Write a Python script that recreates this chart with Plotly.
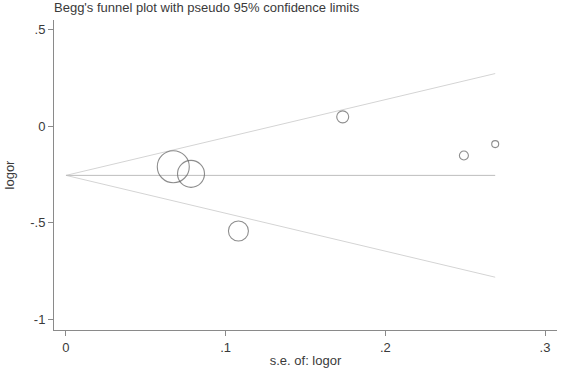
import plotly.graph_objects as go

# data
se = [0.0672, 0.0783, 0.108, 0.1733, 0.2492, 0.2688]
logor = [-0.21, -0.247, -0.543, 0.048, -0.152, -0.093]
msize = [32, 27, 20, 12, 9, 7]
pooled = -0.255
z = 1.96

xtick_vals = [0, 0.1, 0.2, 0.3]
xtick_text = ["0", ".1", ".2", ".3"]
ytick_vals = [0.5, 0, -0.5, -1]
ytick_text = [".5", "0", "-.5", "-1"]

se_max = max(se)
font = "Liberation Sans, Arial, sans-serif"
txt = "#3a3a3a"

fig = go.Figure()
# funnel limits
fig.add_trace(go.Scatter(x=[0, se_max], y=[pooled, pooled + z * se_max], mode="lines",
                         line=dict(color="#d4d4d4", width=1), hoverinfo="skip", showlegend=False))
fig.add_trace(go.Scatter(x=[0, se_max], y=[pooled, pooled - z * se_max], mode="lines",
                         line=dict(color="#d4d4d4", width=1), hoverinfo="skip", showlegend=False))
# pooled line
fig.add_trace(go.Scatter(x=[0, se_max], y=[pooled, pooled], mode="lines",
                         line=dict(color="#bdbdbd", width=1), hoverinfo="skip", showlegend=False))
# studies
fig.add_trace(go.Scatter(x=se, y=logor, mode="markers",
                         marker=dict(size=msize, color="rgba(0,0,0,0)",
                                     line=dict(color="#5e5e5e", width=1.1)),
                         showlegend=False))

fig.update_layout(
    width=568, height=368,
    margin=dict(l=54, r=11, t=20, b=38, autoexpand=False),
    plot_bgcolor="white", paper_bgcolor="white",
    font=dict(family=font, size=13, color=txt),
    title=dict(text="Begg's funnel plot with pseudo 95% confidence limits",
               x=54 / 568, xref="container", xanchor="left",
               y=1 - 7 / 368, yref="container", yanchor="middle",
               font=dict(family=font, size=13, color=txt)),
)
fig.update_xaxes(range=[-0.0075, 0.3075], tickvals=xtick_vals, ticktext=xtick_text,
                 showgrid=False, zeroline=False, showline=True, linecolor="#8a8a8a", linewidth=1,
                 ticks="outside", ticklen=5, tickcolor="#8a8a8a", automargin=False,
                 title=dict(text="s.e. of: logor", standoff=2, font=dict(size=13)))
fig.update_yaxes(range=[-1.055, 0.549], tickvals=ytick_vals, ticktext=ytick_text,
                 showgrid=False, zeroline=False, showline=True, linecolor="#8a8a8a", linewidth=1,
                 ticks="outside", ticklen=5, tickcolor="#8a8a8a", automargin=False,
                 title=dict(text="logor", standoff=12, font=dict(size=13)))

fig.write_html("out.html")
